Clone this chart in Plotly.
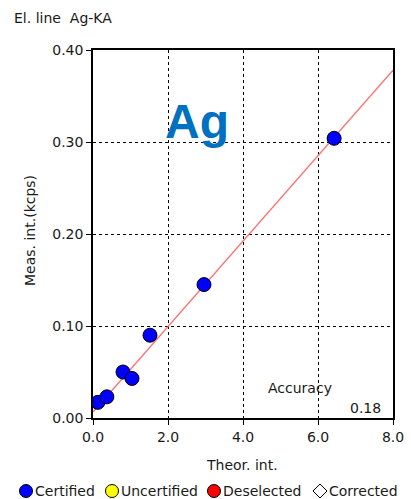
import plotly.graph_objects as go

theor = [0.13, 0.37, 0.80, 1.04, 1.52, 2.96, 6.43]
meas = [0.017, 0.023, 0.050, 0.043, 0.090, 0.145, 0.304]
line_x = [0.0, 8.0]
line_y = [0.0065, 0.378]
xticks = [0.0, 2.0, 4.0, 6.0, 8.0]
yticks = [0.0, 0.1, 0.2, 0.3, 0.4]
legend_names = ["Certified", "Uncertified", "Deselected", "Corrected"]
legend_colors = ["#0000FF", "#FFFF00", "#FF0000", "#FFFFFF"]
legend_symbols = ["circle", "circle", "circle", "diamond"]

FONT = "DejaVu Sans"
TXT = "#1a1a1a"
W, H = 411, 499
L, R, T, B = 93, 18, 50, 81
PW, PH = W - L - R, H - T - B


def px(xp):
    return (xp - L) / PW


def py(yp):
    return (H - B - yp) / PH


fig = go.Figure()
fig.add_trace(go.Scatter(x=line_x, y=line_y, mode="lines",
                         line=dict(color="#FF7070", width=1.3),
                         showlegend=False, hoverinfo="skip"))
fig.add_trace(go.Scatter(x=theor, y=meas, mode="markers",
                         marker=dict(color="#0000FF", size=14, line=dict(color="#000000", width=1)),
                         showlegend=False))

annotations = [
    dict(text="El. line  Ag-KA", x=px(12), y=py(18), xref="paper", yref="paper",
         showarrow=False, xanchor="left", yanchor="middle", font=dict(size=14)),
    dict(text="<b>Ag</b>", x=px(197), y=py(121), xref="paper", yref="paper",
         showarrow=False, xanchor="center", yanchor="middle",
         font=dict(family="Liberation Sans", size=48, color="#0070C0")),
    dict(text="Accuracy", x=px(300), y=py(388), xref="paper", yref="paper",
         showarrow=False, xanchor="center", yanchor="middle", font=dict(size=14)),
    dict(text="0.18", x=px(365), y=py(408), xref="paper", yref="paper",
         showarrow=False, xanchor="center", yanchor="middle", font=dict(size=14)),
    dict(text="Theor. int.", x=px(242), y=py(465), xref="paper", yref="paper",
         showarrow=False, xanchor="center", yanchor="middle", font=dict(size=14)),
    dict(text="Meas. int.(kcps)", x=px(30), y=py(231), xref="paper", yref="paper",
         showarrow=False, xanchor="center", yanchor="middle", textangle=-90,
         font=dict(size=14)),
]
shapes = []
leg_x = [26, 112, 214, 320]
leg_y = 491
for n, c, s, lx in zip(legend_names, legend_colors, legend_symbols, leg_x):
    if s == "circle":
        shapes.append(dict(type="circle", xref="paper", yref="paper",
                           xsizemode="pixel", ysizemode="pixel",
                           xanchor=px(lx), yanchor=py(leg_y),
                           x0=-6.5, x1=6.5, y0=-6.5, y1=6.5,
                           fillcolor=c, line=dict(color="#000000", width=1)))
    else:
        shapes.append(dict(type="path", xref="paper", yref="paper",
                           xsizemode="pixel", ysizemode="pixel",
                           xanchor=px(lx), yanchor=py(leg_y),
                           path="M -7 0 L 0 7 L 7 0 L 0 -7 Z",
                           fillcolor=c, line=dict(color="#000000", width=1)))
    annotations.append(dict(text=n, x=px(lx + 7), y=py(leg_y), xref="paper", yref="paper",
                            showarrow=False, xanchor="left", yanchor="middle",
                            font=dict(size=14)))

fig.update_layout(
    width=W, height=H,
    margin=dict(l=L, r=R, t=T, b=B, autoexpand=False),
    paper_bgcolor="white", plot_bgcolor="white",
    font=dict(family=FONT, size=14, color=TXT),
    showlegend=False,
    xaxis=dict(range=[0, 8], tickvals=xticks, ticktext=[f"{v:.1f}" for v in xticks],
               showgrid=True, gridcolor="#000000", griddash="dot", gridwidth=1,
               showline=True, linecolor="#000000", linewidth=1.5, mirror=True,
               ticks="outside", ticklen=5, tickcolor="#000000", zeroline=False,
               automargin=False, tickfont=dict(size=14)),
    yaxis=dict(range=[0, 0.4], tickvals=yticks, ticktext=[f"{v:.2f}" for v in yticks],
               showgrid=True, gridcolor="#000000", griddash="dot", gridwidth=1,
               showline=True, linecolor="#000000", linewidth=1.5, mirror=True,
               ticks="outside", ticklen=5, tickcolor="#000000", zeroline=False,
               automargin=False, tickfont=dict(size=14)),
    annotations=annotations,
    shapes=shapes,
)

fig.write_html("out.html")
